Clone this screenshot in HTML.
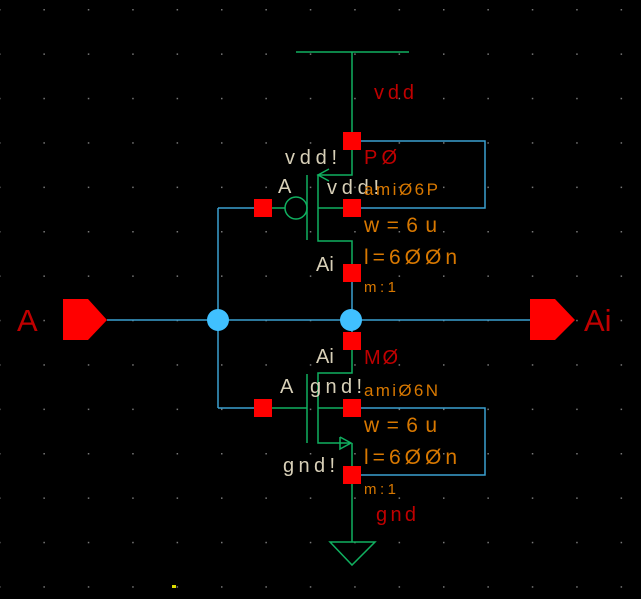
<!DOCTYPE html><html><head><style>body{margin:0;background:#000}</style></head><body>
<svg width="641" height="599" xmlns="http://www.w3.org/2000/svg" style="display:block;background:#000;font-family:'Liberation Sans',sans-serif">
<defs><pattern id="g" x="-1" y="9" width="44.4" height="44.4" patternUnits="userSpaceOnUse"><rect x="0" y="0" width="1.5" height="1.5" fill="#777"/></pattern></defs>
<rect width="641" height="599" fill="url(#g)"/>
<g fill="none" stroke="#3aa0d0" stroke-width="1.5">
<line x1="107" y1="320" x2="530" y2="320"/>
<line x1="218" y1="208" x2="218" y2="408"/>
<line x1="218" y1="208" x2="263" y2="208"/>
<line x1="218" y1="408" x2="263" y2="408"/>
<line x1="352" y1="282" x2="352" y2="332"/>
<polyline points="352,141 485,141 485,208 352,208"/>
<polyline points="352,408 485,408 485,475 352,475"/>
</g>
<g fill="none" stroke="#10b060" stroke-width="1.5">
<line x1="296" y1="52" x2="409" y2="52"/>
<polyline points="352,52 352,175 318,175 318,241 352,241 352,265"/>
<polyline points="329,169 318,175 329,181"/>
<line x1="318" y1="208" x2="352" y2="208"/>
<line x1="307" y1="175" x2="307" y2="240"/>
<circle cx="296" cy="208" r="11"/>
<line x1="272" y1="208" x2="285" y2="208"/>
<polyline points="352,333 352,373 318,373 318,443 350,443"/>
<polyline points="340,437 351,443 340,449 340,437"/>
<line x1="318" y1="408" x2="352" y2="408"/>
<line x1="307" y1="374" x2="307" y2="443"/>
<line x1="272" y1="408" x2="307" y2="408"/>
<line x1="352" y1="443" x2="352" y2="542"/>
<polygon points="330,542 375,542 352,565"/>
</g>
<g fill="#f00">
<rect x="343" y="132" width="18" height="18"/><rect x="254" y="199" width="18" height="18"/>
<rect x="343" y="199" width="18" height="18"/><rect x="343" y="264" width="18" height="18"/>
<rect x="343" y="332" width="18" height="18"/><rect x="254" y="399" width="18" height="18"/>
<rect x="343" y="399" width="18" height="18"/><rect x="343" y="466" width="18" height="18"/>
<polygon points="63,299 88,299 107,320 88,340 63,340"/>
<polygon points="530,299 555,299 575,320 555,340 530,340"/>
</g>
<circle cx="218" cy="320" r="11" fill="#40c0ff"/><circle cx="351" cy="320" r="11" fill="#40c0ff"/>
<g fill="#c00000" font-size="20"><text x="374" y="99" textLength="40">vdd</text><text x="364" y="164" textLength="33">PØ</text><text x="364" y="364" textLength="34">MØ</text><text x="376" y="521" textLength="40">gnd</text></g>
<g fill="#c00000" font-size="31"><text x="17" y="331">A</text><text x="584" y="331">Ai</text></g>
<g fill="#d8d0b8" font-size="20"><text x="285" y="164" textLength="52">vdd!</text><text x="278" y="193">A</text><text x="327" y="194" textLength="52">vdd!</text><text x="316" y="271">Ai</text><text x="316" y="363">Ai</text><text x="280" y="393">A</text><text x="310" y="393" textLength="52">gnd!</text><text x="283" y="472" textLength="52">gnd!</text></g>
<g fill="#d87800"><text x="364" y="195" font-size="17" textLength="74">amiØ6P</text><text x="364" y="232" font-size="21" textLength="73">w=6u</text><text x="364" y="264" font-size="21" textLength="93">l=6ØØn</text><text x="364" y="292" font-size="15" textLength="32">m:1</text>
<text x="364" y="396" font-size="17" textLength="74">amiØ6N</text><text x="364" y="432" font-size="21" textLength="73">w=6u</text><text x="364" y="464" font-size="21" textLength="93">l=6ØØn</text><text x="364" y="494" font-size="15" textLength="32">m:1</text></g>
<rect x="172" y="585" width="4" height="3" fill="#dd0"/>
</svg></body></html>
